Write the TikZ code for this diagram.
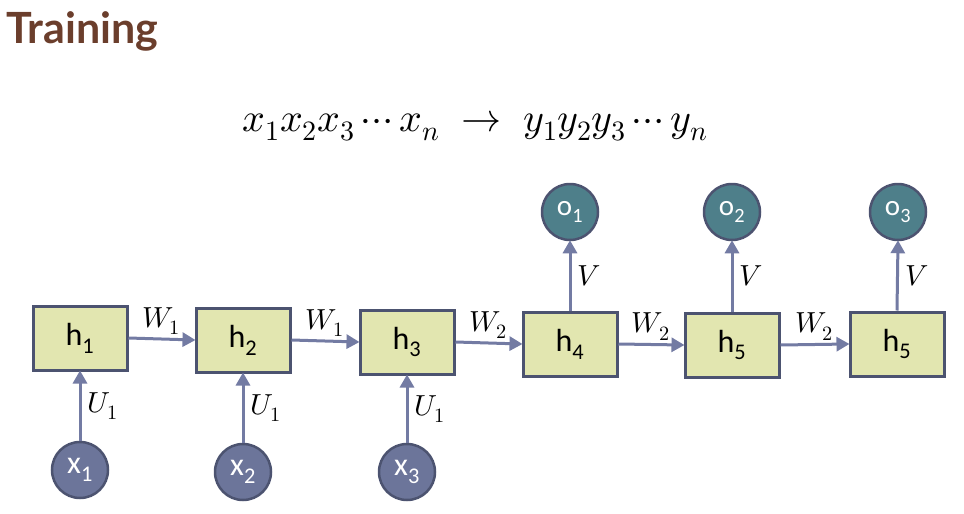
\documentclass[tikz,border=0pt]{standalone}
\usepackage{fontspec}
\usepackage{unicode-math}
\setmathfont{Latin Modern Math}
\newfontfamily\titlefont{Lato}
\newfontfamily\nodefont{Carlito}
\usetikzlibrary{arrows.meta}
\definecolor{boxfill}{HTML}{E2E6B0}
\definecolor{boxedge}{HTML}{4C5370}
\definecolor{arrowc}{HTML}{737BA3}
\definecolor{xfill}{HTML}{6C759A}
\definecolor{ofill}{HTML}{4E7F8A}
\definecolor{titlec}{HTML}{6B3E2C}
\tikzset{
  hbox/.style={draw=boxedge, fill=boxfill, line width=3pt, minimum width=94pt, minimum height=64pt, inner sep=0pt, font=\nodefont\fontsize{32}{36}\selectfont},
  xcirc/.style={circle, draw=boxedge, fill=xfill, line width=2.5pt, minimum size=56pt, inner sep=0pt, text=white, font=\nodefont\fontsize{32}{36}\selectfont},
  ocirc/.style={circle, draw=boxedge, fill=ofill, line width=2.5pt, minimum size=56pt, inner sep=0pt, text=white, font=\nodefont\fontsize{29}{33}\selectfont},
  conn/.style={draw=arrowc, line width=3pt, -{Triangle[length=13pt, width=14pt]}, shorten >=-1pt},
  lbl/.style={font=\fontsize{29}{33}\selectfont, inner sep=2pt}
}
\begin{document}
\begin{tikzpicture}[x=1pt, y=-1pt]
\useasboundingbox (0,0) rectangle (964,514);
\node[anchor=base west, text=titlec, font=\titlefont\bfseries\fontsize{43}{48}\selectfont, inner sep=0pt] (title) at (6,43) {Training};
\node[anchor=base, font=\fontsize{40}{45}\selectfont, inner sep=0pt] (eq) at (475,131) {$x_1x_2x_3\,{\cdots}\,x_n\;\rightarrow\;y_1y_2y_3\,{\cdots}\,y_n$};

\node[hbox] (h1) at (80,338) {h\textsubscript{1}};
\node[hbox] (h2) at (243,340) {h\textsubscript{2}};
\node[hbox] (h3) at (407,342) {h\textsubscript{3}};
\node[hbox] (h4) at (570,344) {h\textsubscript{4}};
\node[hbox] (h5) at (732,345) {h\textsubscript{5}};
\node[hbox] (h6) at (897,344) {h\textsubscript{5}};

\node[xcirc] (x1) at (80,470) {x\textsubscript{1}};
\node[xcirc] (x2) at (243,472) {x\textsubscript{2}};
\node[xcirc] (x3) at (407,472) {x\textsubscript{3}};

\node[ocirc] (o1) at (570,212) {o\textsubscript{1}};
\node[ocirc] (o2) at (732,212) {o\textsubscript{2}};
\node[ocirc] (o3) at (898,212) {o\textsubscript{3}};

\draw[conn] (h1.east) -- node[lbl, midway, above=1pt] {$W_1$} (h2.west);
\draw[conn] (h2.east) -- node[lbl, midway, above=1pt] {$W_1$} (h3.west);
\draw[conn] (h3.east) -- node[lbl, midway, above=1pt] {$W_2$} (h4.west);
\draw[conn] (h4.east) -- node[lbl, midway, above=1pt] {$W_2$} (h5.west);
\draw[conn] (h5.east) -- node[lbl, midway, above=1pt] {$W_2$} (h6.west);

\draw[conn] (x1.north) -- node[lbl, midway, right=4pt] {$U_1$} (h1.south);
\draw[conn] (x2.north) -- node[lbl, midway, right=4pt] {$U_1$} (h2.south);
\draw[conn] (x3.north) -- node[lbl, midway, right=4pt] {$U_1$} (h3.south);

\draw[conn] (h4.north) -- node[lbl, midway, right=4pt] {$V$} (o1.south);
\draw[conn] (h5.north) -- node[lbl, midway, right=4pt] {$V$} (o2.south);
\draw[conn] (h6.north) -- node[lbl, midway, right=4pt] {$V$} (o3.south);
\end{tikzpicture}
\end{document}
